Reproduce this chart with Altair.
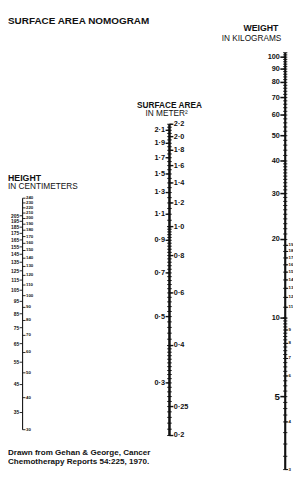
import altair as alt
import pandas as pd

# ---------------- data ----------------
height_right = [30, 40, 50, 60, 70, 80, 90, 100, 110, 120, 130, 140, 150, 160,
                170, 180, 190, 200, 210, 220, 230, 240]
height_left = [35, 45, 55, 65, 75, 85, 95, 105, 115, 125, 135, 145, 155, 165,
               175, 185, 195, 205]

bsa_right = [0.2, 0.25, 0.4, 0.6, 0.8, 1.0, 1.2, 1.4, 1.6, 1.8, 2.0, 2.2]
bsa_right_text = ["0·2", "0·25", "0·4", "0·6", "0·8", "1·0", "1·2", "1·4",
                  "1·6", "1·8", "2·0", "2·2"]
bsa_left = [0.3, 0.5, 0.7, 0.9, 1.1, 1.3, 1.5, 1.7, 1.9, 2.1]
bsa_left_text = ["0·3", "0·5", "0·7", "0·9", "1·1", "1·3", "1·5", "1·7",
                 "1·9", "2·1"]

weight_left = [5, 10, 20, 30, 40, 50, 60, 70, 80, 90, 100]
weight_right = [3, 4, 6, 7, 8, 9, 11, 12, 13, 14, 15, 16, 17, 18, 19]

# graduation (minor tick) steps of the printed scales
bsa_minor = ([round(0.20 + 0.01 * i, 2) for i in range(21)]
             + [round(0.40 + 0.02 * i, 2) for i in range(31)]
             + [round(1.00 + 0.05 * i, 2) for i in range(25)])
weight_minor = ([round(3 + 0.25 * i, 2) for i in range(29)]
                + list(range(10, 40))
                + list(range(40, 106, 2)))

# ---------------- styling ----------------
INK = "#111111"
FONT = "Liberation Sans"
NARROW = "Liberation Sans Narrow, Liberation Sans"

h_scale = alt.Scale(type="log", domain=[30, 240], range=[427, 189])
b_scale = alt.Scale(type="log", domain=[0.2, 2.2], range=[433, 113])
w_scale = alt.Scale(type="log", domain=[3, 4, 100], range=[468, 419, 44])


def df(vals, texts=None):
    d = {"v": vals}
    if texts is not None:
        d["t"] = texts
    return pd.DataFrame(d)


def rule_ticks(data, x1, x2, scale, sw=1.0):
    return alt.Chart(data).mark_rule(color=INK, strokeWidth=sw).encode(
        x=alt.value(x1), x2=alt.value(x2),
        y=alt.Y("v:Q", scale=scale, axis=None))


def spine(data, x, scale, sw):
    return alt.Chart(data).mark_rule(color=INK, strokeWidth=sw).encode(
        x=alt.value(x),
        y=alt.Y("min(v):Q", scale=scale, axis=None),
        y2="max(v):Q")


def labels(data, x, align, size, scale, font=FONT, weight="normal"):
    return alt.Chart(data).mark_text(
        align=align, baseline="middle", fontSize=size, font=font,
        fontWeight=weight, fill=INK).encode(
        x=alt.value(x),
        y=alt.Y("v:Q", scale=scale, axis=None),
        text="t:N")


def title_text(txt, x, y, size, align="left", weight="normal"):
    return alt.Chart(pd.DataFrame({"_": [0]})).mark_text(
        text=txt, align=align, baseline="middle", fontSize=size, font=FONT,
        fontWeight=weight, fill=INK).encode(x=alt.value(x), y=alt.value(y))


# ---------------- height axis ----------------
HX = 15
h_all = df(height_right + height_left)
height_layer = alt.layer(
    spine(h_all, HX, h_scale, 1.1),
    rule_ticks(df(height_right), HX, HX + 3, h_scale, 0.9),
    rule_ticks(df(height_left), HX - 3, HX, h_scale, 0.9),
    labels(df(height_right, [str(v) for v in height_right]), HX + 3.5, "left", 4.5, h_scale, NARROW, "bold"),
    labels(df(height_left, [str(v) for v in height_left]), HX - 3.5, "right", 5, h_scale, NARROW, "bold"),
)

# ---------------- surface area axis ----------------
BX = 166
bsa_layer = alt.layer(
    spine(df(bsa_minor), BX, b_scale, 2.6),
    rule_ticks(df(bsa_minor), BX - 2.3, BX + 2.3, b_scale, 1.0),
    rule_ticks(df(bsa_right), BX, BX + 4, b_scale, 1.4),
    rule_ticks(df(bsa_left), BX - 4, BX, b_scale, 1.4),
    labels(df(bsa_right, bsa_right_text), BX + 4.5, "left", 7.5, b_scale, NARROW, "bold"),
    labels(df(bsa_left, bsa_left_text), BX - 4.5, "right", 7.5, b_scale, NARROW, "bold"),
)

# ---------------- weight axis ----------------
WX = 285
weight_layer = alt.layer(
    spine(df(weight_minor), WX, w_scale, 2.2),
    rule_ticks(df(weight_minor), WX - 2.2, WX + 2.2, w_scale, 0.9),
    rule_ticks(df(weight_left), WX - 5, WX, w_scale, 1.6),
    rule_ticks(df(weight_right), WX, WX + 3, w_scale, 1.0),
    labels(df(weight_left[1:], [str(v) for v in weight_left[1:]]), WX - 5.5, "right", 7.5, w_scale, NARROW, "bold"),
    labels(df(weight_left[:1], ["5"]), WX - 5.5, "right", 10, w_scale, NARROW, "bold"),
    labels(df(weight_right, [str(v) for v in weight_right]), WX + 3.5, "left", 4.5, w_scale, NARROW, "bold"),
)

# ---------------- titles ----------------
titles = alt.layer(
    title_text("SURFACE AREA NOMOGRAM", 0, 7, 10.2, weight="bold"),
    title_text("WEIGHT", 278, 14, 9, align="right", weight="bold"),
    title_text("IN KILOGRAMS", 281, 24, 8.5, align="right"),
    title_text("SURFACE AREA", 166, 93, 8.5, align="center", weight="bold"),
    title_text("IN METER²", 163, 102, 8.5, align="center"),
    title_text("HEIGHT", 0, 168, 9, weight="bold"),
    title_text("IN CENTIMETERS", 0, 177, 8.5),
    title_text("Drawn from Gehan & George, Cancer", 0, 451, 8.3, weight="bold"),
    title_text("Chemotherapy Reports 54:225, 1970.", 0, 460, 8.3, weight="bold"),
)

chart = alt.layer(height_layer, bsa_layer, weight_layer, titles).resolve_scale(
    y="independent"
).properties(
    width=293, height=465, padding=0,
    autosize=alt.AutoSizeParams(type="none"),
    background="white",
).configure_view(stroke=None)

chart.save("out.html", embed_options={"renderer": "svg", "actions": False})
